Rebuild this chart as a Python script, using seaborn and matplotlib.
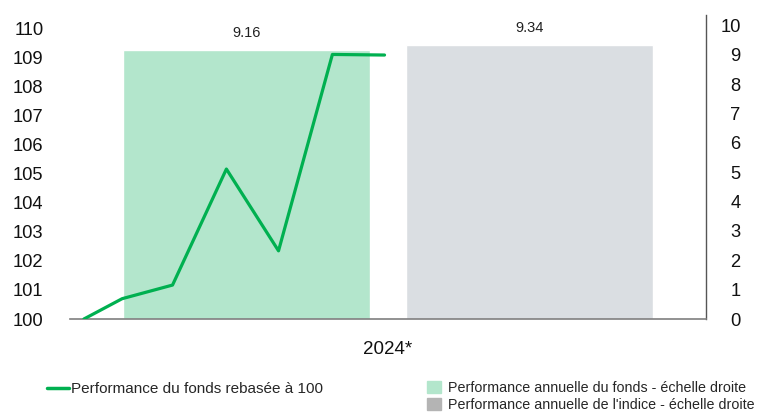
import pandas as pd
import numpy as np
import matplotlib
matplotlib.use("Agg")
import matplotlib.pyplot as plt
from matplotlib.lines import Line2D
from matplotlib.patches import Patch
import seaborn as sns

# ==========================
# DATA
# ==========================

periode = ["2024*", "2024*"]
series = ["Performance annuelle du fonds - échelle droite",
          "Performance annuelle de l'indice - échelle droite"]
perf_annuelle = [9.16, 9.34]

dates_fonds = ["2024-01-09", "2024-01-31", "2024-02-29", "2024-03-31",
               "2024-04-30", "2024-05-31", "2024-06-30"]
valeurs_fonds = [100.0, 100.7, 101.17, 105.17, 102.35, 109.12, 109.1]

label_ligne = "Performance du fonds rebasée à 100"

# ==========================
# STYLE
# ==========================

sns.set_style("white")
plt.rcParams["font.family"] = ["Liberation Sans", "DejaVu Sans"]

vert = "#00b050"
vert_clair = "#b3e6cc"
gris_barre = "#dadee2"
gris_legende = "#b4b4b4"
tick_size = 13.2

fig = plt.figure(figsize=(7.6, 4.13), dpi=100)
pos = [70 / 760, 1 - 319 / 413, 636 / 760, 304 / 413]

# ==========================
# BARS (right scale)
# ==========================

ax = fig.add_axes(pos)

df_bar = pd.DataFrame({
    "periode": periode,
    "serie": series,
    "perf": perf_annuelle
})

sns.barplot(
    data=df_bar,
    x="periode",
    y="perf",
    hue="serie",
    palette=[vert_clair, gris_barre],
    saturation=1,
    width=0.8,
    gap=0.124,
    legend=False,
    ax=ax
)

for cont in ax.containers:
    ax.bar_label(cont, fmt="%.2f", padding=7, fontsize=10.5, color="#222222")

ax.set_xlim(-0.45, 0.45)
ax.set_ylim(0, 10.35)
ax.set_yticks(range(0, 11))
ax.yaxis.tick_right()
ax.tick_params(axis="y", length=0, pad=25, labelsize=tick_size, colors="#111111")
for t in ax.get_yticklabels():
    t.set_horizontalalignment("right")
ax.tick_params(axis="x", length=0, pad=16, labelsize=13.5, colors="#111111")
ax.set_xlabel("")
ax.set_ylabel("")

for side in ["top", "left"]:
    ax.spines[side].set_visible(False)
ax.spines["right"].set_color("#555555")
ax.spines["right"].set_linewidth(1)
ax.spines["bottom"].set_color("#7f7f7f")
ax.spines["bottom"].set_linewidth(1.2)

# ==========================
# LINE (left scale)
# ==========================

ax_l = fig.add_axes(pos, frameon=False)

df_line = pd.DataFrame({
    "date": pd.to_datetime(dates_fonds),
    "valeur": valeurs_fonds
})

sns.lineplot(
    data=df_line,
    x="date",
    y="valeur",
    color=vert,
    linewidth=2.3,
    ax=ax_l
)

ax_l.set_xlim(pd.Timestamp("2024-01-01"), pd.Timestamp("2025-01-01"))
ax_l.set_ylim(100, 110.48)
ax_l.set_yticks(range(100, 111))
ax_l.xaxis.set_visible(False)
ax_l.set_xlabel("")
ax_l.set_ylabel("")
ax_l.tick_params(axis="y", length=0, pad=19, labelsize=tick_size, colors="#111111")
ax_l.spines["left"].set_visible(True)
ax_l.spines["left"].set_color("#000000")
ax_l.spines["left"].set_linewidth(1)
ax_l.patch.set_alpha(0)

# ==========================
# LEGENDS
# ==========================

fig.legend(
    handles=[Line2D([0], [0], color=vert, linewidth=2.5)],
    labels=[label_ligne],
    loc="center left",
    bbox_to_anchor=(47 / 760, 1 - 389 / 413),
    frameon=False,
    fontsize=11,
    handlelength=1.45,
    handletextpad=0.15,
    borderaxespad=0,
    borderpad=0
)

fig.legend(
    handles=[Patch(color=vert_clair), Patch(color=gris_legende)],
    labels=series,
    loc="upper left",
    bbox_to_anchor=(427 / 760, 1 - 381 / 413),
    frameon=False,
    fontsize=10.3,
    handlelength=0.95,
    handleheight=0.85,
    handletextpad=0.55,
    labelspacing=0.2,
    borderaxespad=0,
    borderpad=0
)

fig.savefig("out.png", dpi=100)
